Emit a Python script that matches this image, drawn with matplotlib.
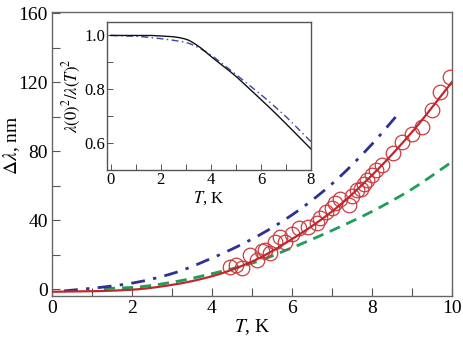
import matplotlib
matplotlib.use("Agg")
import matplotlib.pyplot as plt
from matplotlib.ticker import MultipleLocator
import numpy as np

plt.rcParams['font.family'] = ['Liberation Serif', 'DejaVu Serif']
plt.rcParams['mathtext.fontset'] = 'stix'

# Main panel data
fit_T = [0, 1, 2, 3, 4, 5, 6, 7, 8, 9, 10]
fit_dl = [-1.5, -1.2, -0.3, 2.5, 7.5, 16, 29, 45, 66, 91, 120]

green_T = [1.3, 2, 3, 4, 5, 6, 7, 8, 9, 9.95]
green_dl = [0.3, 1, 4, 9, 15, 24, 34, 45, 58, 73]

blue_T = [0.3, 1, 2, 3, 4, 5, 6, 7, 8, 8.6]
blue_dl = [-1, 0.5, 3.5, 9, 18, 29, 43, 61, 84, 100]

data_T = [4.45, 4.6, 4.75, 4.95, 5.12, 5.25, 5.33, 5.45, 5.58, 5.7, 5.82, 6.0,
          6.18, 6.4, 6.62, 6.7, 6.85, 7.0, 7.08, 7.2, 7.43, 7.5, 7.63, 7.72,
          7.8, 7.88, 8.0, 8.1, 8.25, 8.53, 8.75, 9.0, 9.25, 9.5, 9.7, 9.95]
data_dl = [13, 14, 12, 19.7, 16.8, 22, 22.6, 20.9, 27.2, 30, 27.2, 32,
           35.4, 36, 38.3, 41.2, 45, 47, 50, 52, 48.7, 54, 57.4, 58,
           61, 63.2, 66, 69, 72, 79, 85, 90, 94, 104, 114, 123]

# Inset data
ins_T = [0, 1, 1.5, 2, 2.5, 3, 3.5, 4, 4.5, 5, 5.5, 6, 6.5, 7, 7.5, 8]
ins_black = [1.0, 1.0, 1.0, 0.998, 0.995, 0.986, 0.96, 0.922, 0.886, 0.848,
             0.805, 0.762, 0.718, 0.672, 0.625, 0.578]
ins_blue = [1.0, 0.997, 0.993, 0.988, 0.982, 0.974, 0.955, 0.927, 0.892, 0.855,
            0.818, 0.78, 0.74, 0.698, 0.652, 0.605]

def smooth(x, y, n=200):
    x = np.asarray(x, float); y = np.asarray(y, float)
    xs = np.linspace(x[0], x[-1], n)
    h = np.diff(x); d = np.diff(y) / h
    m = np.zeros_like(y)
    m[0] = d[0]; m[-1] = d[-1]
    for i in range(1, len(x) - 1):
        if d[i-1] * d[i] <= 0:
            m[i] = 0
        else:
            w1 = 2*h[i] + h[i-1]; w2 = h[i] + 2*h[i-1]
            m[i] = (w1 + w2) / (w1/d[i-1] + w2/d[i])
    idx = np.clip(np.searchsorted(x, xs) - 1, 0, len(x) - 2)
    t = (xs - x[idx]) / h[idx]
    h00 = 2*t**3 - 3*t**2 + 1; h10 = t**3 - 2*t**2 + t
    h01 = -2*t**3 + 3*t**2; h11 = t**3 - t**2
    ys = h00*y[idx] + h10*h[idx]*m[idx] + h01*y[idx+1] + h11*h[idx]*m[idx+1]
    return xs, ys

fig = plt.figure(figsize=(4.64, 3.38), dpi=100)
ax = fig.add_axes([0.112, 0.124, 0.862, 0.840])

red = '#c0272d'
blue = '#2e3192'
green = '#1e9e5a'

ax.plot(*smooth(green_T, green_dl), ls=(0, (4, 2.5)), color=green, lw=2.0, zorder=2)
ax.plot(*smooth(blue_T, blue_dl), ls=(0, (5, 3, 1.2, 3)), color=blue, lw=2.0, zorder=2)
ax.plot(data_T, data_dl, 'o', ms=10.5, mfc='none', mec='#cc3a3f', mew=0.9, zorder=3)
ax.plot(*smooth(fit_T, fit_dl), '-', color=red, lw=1.6, zorder=4)

ax.set_xlim(0, 10)
ax.set_ylim(-4, 160.5)
ax.xaxis.set_major_locator(MultipleLocator(2))
ax.xaxis.set_minor_locator(MultipleLocator(1))
ax.yaxis.set_major_locator(MultipleLocator(40))
ax.yaxis.set_minor_locator(MultipleLocator(20))
ax.tick_params(which='both', direction='in', top=False, right=False,
               labelsize=14, color='#555555', pad=3)
ax.tick_params(which='major', length=6, width=0.8)
ax.tick_params(which='minor', length=6, width=0.8)
for s in ax.spines.values():
    s.set_color('#666666'); s.set_linewidth(1.0)
ax.set_xlabel(r'$T$, K', fontsize=14, labelpad=0)
ax.set_ylabel(r'$\Delta\lambda$, nm', fontsize=14, va='center')
ax.yaxis.set_label_coords(-0.1, 0.53)

ins = fig.add_axes([0.2306, 0.497, 0.4397, 0.438])
ins.plot(*smooth(ins_T, ins_blue), ls=(0, (5, 2.5, 1, 2.5)), color='#3a47a0', lw=1.0)
ins.plot(*smooth(ins_T, ins_black), '-', color='#111111', lw=1.0)
ins.set_xlim(-0.15, 8)
ins.set_ylim(0.5, 1.05)
ins.xaxis.set_major_locator(MultipleLocator(2))
ins.xaxis.set_minor_locator(MultipleLocator(1))
ins.yaxis.set_major_locator(MultipleLocator(0.2))
ins.yaxis.set_minor_locator(MultipleLocator(0.1))
ins.tick_params(which='both', direction='in', top=False, right=False,
                labelsize=12, color='#555555', length=4, width=0.7, pad=1.5)
for s in ins.spines.values():
    s.set_color('#555555'); s.set_linewidth(1.0)
ins.set_xlabel(r'$T$, K', fontsize=12, labelpad=1)
ins.set_ylabel(r'$\lambda(0)^2/\lambda(T)^2$', fontsize=12, labelpad=1)

fig.savefig('out.png', dpi=100)
